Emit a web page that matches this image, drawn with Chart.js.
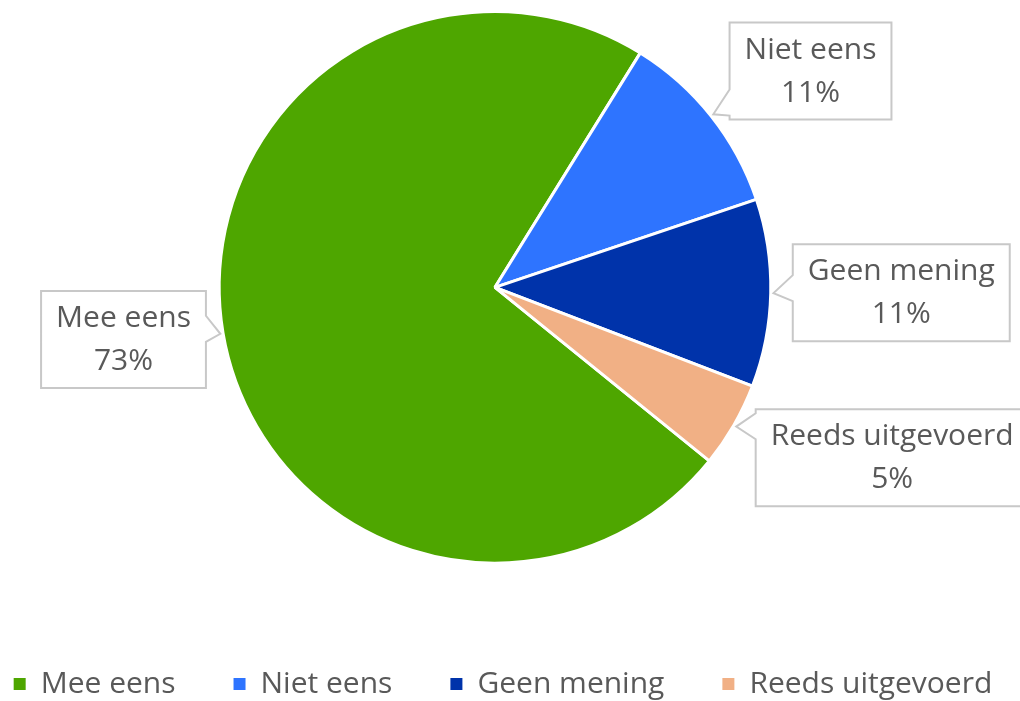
<!DOCTYPE html>
<html>
<head>
<meta charset="utf-8">
<script src="https://cdn.jsdelivr.net/npm/chart.js@4.4.1/dist/chart.umd.min.js"></script>
<style>
  html, body { margin: 0; padding: 0; background: #fff; }
  #wrap { width: 1020px; height: 701px; position: relative; }
</style>
</head>
<body>
<div id="wrap"><canvas id="pieChart"></canvas></div>
<script>
var categories = ['Mee eens', 'Niet eens', 'Geen mening', 'Reeds uitgevoerd'];
var percentages = [73, 11, 11, 5];
var sliceColors = ['#4ea600', '#2e74ff', '#0033aa', '#f1b085'];

// callout box centres, relative to the pie centre in units of the radius
var calloutOffsets = [[-1.347, 0.189], [1.144, -0.784], [1.473, 0.02], [1.44, 0.618]];

var textColor = '#595959';
var fontFamily = "'Open Sans', 'Noto Sans', sans-serif";

// draws the Excel-like callout labels next to each slice
var calloutPlugin = {
    id: 'callouts',
    afterDatasetsDraw: function (chart) {
        var ctx = chart.ctx;
        var meta = chart.getDatasetMeta(0);
        ctx.save();
        ctx.font = '30px ' + fontFamily;
        meta.data.forEach(function (arc, i) {
            var p = arc.getProps(['x', 'y', 'startAngle', 'endAngle', 'outerRadius'], true);
            var r = p.outerRadius;
            var mid = (p.startAngle + p.endAngle) / 2;
            var tipX = p.x + Math.cos(mid) * r * 1.01;
            var tipY = p.y + Math.sin(mid) * r * 1.01;

            var line1 = categories[i];
            var line2 = percentages[i] + '%';
            var w = Math.max(ctx.measureText(line1).width, ctx.measureText(line2).width) + 30;
            var h = 97;
            var cx = p.x + calloutOffsets[i][0] * r;
            var cy = p.y + calloutOffsets[i][1] * r;
            var left = cx - w / 2, right = cx + w / 2, top = cy - h / 2, bottom = cy + h / 2;

            // box outline with a pointer notch on the side facing the slice
            var by = Math.min(Math.max(tipY, top + 22), bottom - 12);
            ctx.beginPath();
            ctx.moveTo(left, top);
            ctx.lineTo(right, top);
            if (tipX > right) {
                ctx.lineTo(right, by - 18);
                ctx.lineTo(tipX, tipY);
                ctx.lineTo(right, by + 8);
            }
            ctx.lineTo(right, bottom);
            ctx.lineTo(left, bottom);
            if (tipX < left) {
                ctx.lineTo(left, by + 8);
                ctx.lineTo(tipX, tipY);
                ctx.lineTo(left, by - 18);
            }
            ctx.closePath();
            ctx.fillStyle = '#ffffff';
            ctx.fill();
            ctx.lineWidth = 2;
            ctx.strokeStyle = '#c8c8c8';
            ctx.stroke();

            ctx.fillStyle = textColor;
            ctx.textAlign = 'center';
            ctx.textBaseline = 'middle';
            ctx.fillText(line1, cx, cy - 21);
            ctx.fillText(line2, cx, cy + 22);
        });
        ctx.restore();
    }
};

// lets the single legend row be a bit wider than the chart area so it does not wrap
var wideLegendPlugin = {
    id: 'wideLegend',
    beforeInit: function (chart) {
        var legend = chart.legend;
        var origFit = legend.fit;
        legend.fit = function () {
            var w = this.maxWidth;
            this.maxWidth = w + 200;
            origFit.call(this);
            this.maxWidth = w;
            this.width = Math.min(this.width, w);
        };
    },
    afterLayout: function (chart) {
        chart.legend.left -= 92;
        chart.legend.right += 108;
    }
};

var ctx = document.getElementById('pieChart').getContext('2d');
var pieChart = new Chart(ctx, {
    type: 'pie',
    data: {
        labels: categories,
        datasets: [{
            data: percentages,
            backgroundColor: sliceColors,
            borderColor: '#ffffff',
            borderWidth: 3
        }]
    },
    options: {
        responsive: true,
        maintainAspectRatio: false,
        animation: false,
        rotation: 129,
        layout: {
            padding: { top: 10, left: 0, right: 30, bottom: -8 }
        },
        plugins: {
            tooltip: { enabled: false },
            legend: {
                position: 'bottom',
                title: {
                    display: true,
                    text: '',
                    font: { size: 12 },
                    padding: { top: 16, bottom: 16 }
                },
                labels: {
                    color: textColor,
                    font: { family: fontFamily, size: 30 },
                    boxWidth: 12,
                    boxHeight: 12,
                    padding: 58,
                    generateLabels: function (chart) {
                        var items = Chart.overrides.pie.plugins.legend.labels.generateLabels(chart);
                        items.forEach(function (item) { item.lineWidth = 0; });
                        return items;
                    }
                }
            }
        }
    },
    plugins: [calloutPlugin, wideLegendPlugin]
});
</script>
</body>
</html>
